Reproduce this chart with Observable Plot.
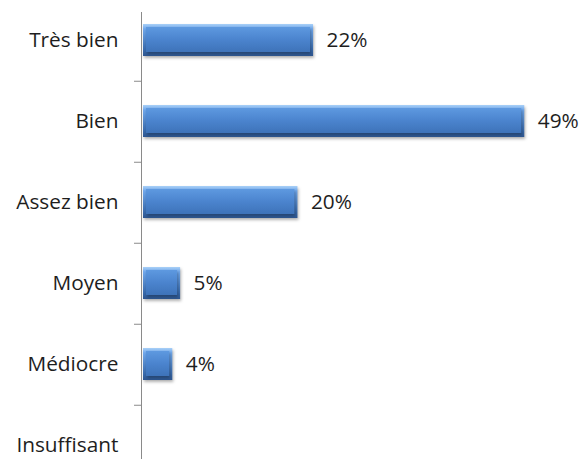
<!DOCTYPE html>
<html><head><meta charset="utf-8">
<script src="https://cdn.jsdelivr.net/npm/d3@7"></script>
<script src="https://cdn.jsdelivr.net/npm/@observablehq/plot@0.6"></script>
<style>body{margin:0;background:#fff;overflow:hidden}</style>
</head><body><div id="chart"></div>
<script>
const categories = ["Très bien", "Bien", "Assez bien", "Moyen", "Médiocre", "Insuffisant"];
const values = [22, 49, 20, 5, 4, 0];
const data = categories.map((c, i) => ({c, v: values[i]}));

const chart = Plot.plot({
  width: 583, height: 459,
  marginLeft: 141, marginRight: 4, marginTop: 0, marginBottom: 0,
  style: {fontFamily: "'Open Sans', sans-serif", fontSize: "20.8px", color: "#1e1e1e", background: "#fff"},
  x: {domain: [0, 56], axis: null},
  y: {domain: categories, range: [-1.5, 487.5], paddingInner: 0.6, paddingOuter: 0.3, axis: null},
  marks: [
    Plot.axisY({tickSize: 0, tickPadding: 23, fontSize: 20.8, fill: "#1e1e1e", label: null}),
    Plot.ruleY(categories.slice(0, -1), {y: d => d, x1: 0, x2: 0, dy: 40.75, insetLeft: -7, stroke: "#8a8a8a"}),
    Plot.barX(data.filter(d => d.v > 0), {x: "v", y: "c", fill: "url(#outerGrad)", insetLeft: 2}),
    Plot.barX(data.filter(d => d.v > 0), {x: "v", y: "c", fill: "url(#innerGrad)", insetLeft: 5, insetRight: 3, insetTop: 3, insetBottom: 4}),
    Plot.ruleX([0], {stroke: "#8a8a8a", insetTop: 12}),
    Plot.text(data.filter(d => d.v > 0), {x: "v", y: "c", text: d => d.v + "%", textAnchor: "start", dx: 13, fontSize: 20.8, fill: "#1e1e1e"})
  ]
});
d3.select(chart).insert("defs", ":first-child").html(`
  <linearGradient id="outerGrad" x1="0" y1="0" x2="0" y2="1">
    <stop offset="0" stop-color="#a9d0f7"/>
    <stop offset="0.15" stop-color="#70a8ec"/>
    <stop offset="0.8" stop-color="#3a6cae"/>
    <stop offset="1" stop-color="#2e5690"/>
  </linearGradient>
  <linearGradient id="innerGrad" x1="0" y1="0" x2="0" y2="1">
    <stop offset="0" stop-color="#5e99e0"/>
    <stop offset="0.5" stop-color="#4b84ce"/>
    <stop offset="1" stop-color="#3e73b9"/>
  </linearGradient>`);
d3.select(chart).selectAll("g[aria-label='bar'] rect").style("filter", "drop-shadow(1px 2px 1.5px rgba(0,0,0,0.3))");
document.getElementById("chart").append(chart);
</script></body></html>
